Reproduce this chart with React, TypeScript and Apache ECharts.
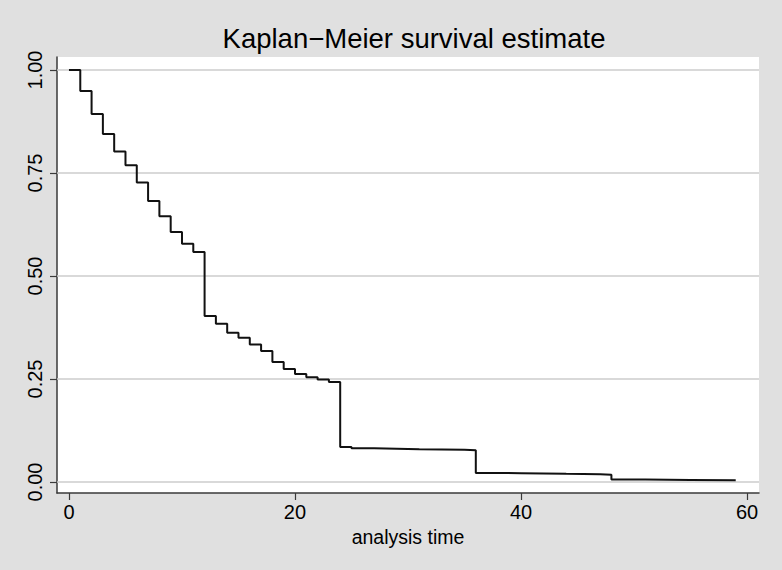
import React, { useEffect, useRef } from "react";
import * as echarts from "echarts";

const titleText = "Kaplan\u2212Meier survival estimate";
const xAxisName = "analysis time";
const xTicks = [0, 20, 40, 60];
const yTicks = [0, 0.25, 0.5, 0.75, 1];

const times = [
  0, 1, 2, 3, 4, 5, 6, 7, 8, 9, 10, 11, 12, 13, 14, 15, 16, 17, 18, 19, 20,
  21, 22, 23, 24, 25, 27, 29, 31, 33, 35, 36, 38, 40, 42, 44, 47, 48, 51, 55, 59,
];
const survival = [
  1.0, 0.949, 0.893, 0.845, 0.802, 0.769, 0.727, 0.682, 0.645, 0.607, 0.578,
  0.558, 0.403, 0.384, 0.362, 0.35, 0.334, 0.318, 0.291, 0.274, 0.262, 0.254,
  0.249, 0.243, 0.085, 0.082, 0.081, 0.0795, 0.079, 0.078, 0.077, 0.022,
  0.0212, 0.0205, 0.0198, 0.019, 0.0175, 0.006, 0.005, 0.004, 0.003,
];

const FONT = "'Liberation Sans', Arial, Helvetica, sans-serif";

export default function App() {
  const ref = useRef<HTMLDivElement>(null);
  useEffect(() => {
    if (!ref.current) return;
    const chart = echarts.init(ref.current, null, { renderer: "svg" });
    const data = times.map((t, i) => [t, survival[i]]);
    chart.setOption({
      animation: false,
      backgroundColor: "#e0e0e0",
      textStyle: { fontFamily: FONT },
      title: {
        text: titleText,
        left: 409,
        top: 19,
        textAlign: "center",
        textStyle: {
          fontFamily: FONT,
          fontSize: 27.5,
          fontWeight: "normal",
          color: "#000",
        },
      },
      grid: {
        left: 57,
        right: 23,
        top: 57,
        bottom: 77,
        show: true,
        backgroundColor: "#ffffff",
        borderWidth: 0,
      },
      xAxis: {
        type: "value",
        min: -1.06,
        max: 61.06,
        name: xAxisName,
        nameLocation: "middle",
        nameGap: 30,
        nameTextStyle: { fontFamily: FONT, fontSize: 19.5, color: "#000" },
        axisLine: {
          show: true,
          onZero: false,
          lineStyle: { color: "#3a3a3a", width: 1.5 },
        },
        axisTick: {
          show: true,
          length: 7,
          customValues: xTicks,
          lineStyle: { color: "#3a3a3a", width: 1.2 },
        },
        axisLabel: {
          customValues: xTicks,
          margin: 9,
          fontFamily: FONT,
          fontSize: 20,
          color: "#000",
        },
        splitLine: { show: false },
      },
      yAxis: {
        type: "value",
        min: -0.0267,
        max: 1.0316,
        axisLine: {
          show: true,
          onZero: false,
          lineStyle: { color: "#3a3a3a", width: 1.5 },
        },
        axisTick: {
          show: true,
          length: 7,
          customValues: yTicks,
          lineStyle: { color: "#3a3a3a", width: 1.2 },
        },
        axisLabel: {
          customValues: yTicks,
          rotate: 90,
          margin: 12,
          fontFamily: FONT,
          fontSize: 20,
          color: "#000",
          formatter: (v: number) => v.toFixed(2),
        },
        splitLine: { show: false },
      },
      series: [
        {
          type: "line",
          data: [],
          silent: true,
          markLine: {
            silent: true,
            z: 1,
            symbol: ["none", "none"],
            label: { show: false },
            lineStyle: { color: "#cccccc", width: 1.5, type: "solid" },
            data: yTicks.map((v) => ({ yAxis: v })),
          },
          z: 1,
        },
        {
          type: "line",
          step: "end",
          data,
          symbol: "none",
          z: 5,
          lineStyle: { color: "#111111", width: 2 },
        },
      ],
    });
    return () => chart.dispose();
  }, []);
  return (
    <div
      ref={ref}
      style={{ position: "absolute", left: 0, top: 0, width: 782, height: 570 }}
    />
  );
}
